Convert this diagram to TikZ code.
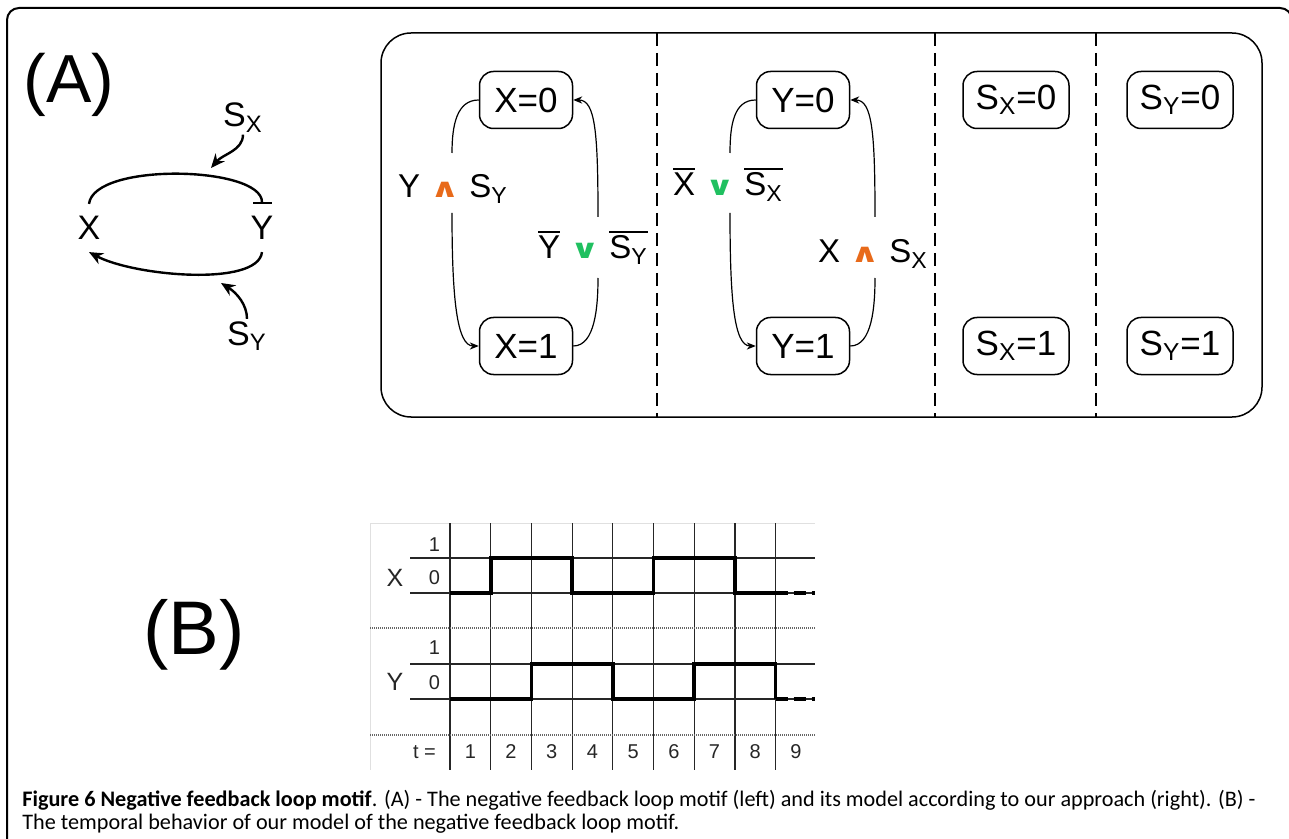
\documentclass[tikz,border=0pt]{standalone}
\usepackage{fontspec}
\setmainfont{Liberation Sans}
\newfontfamily\capfont{Carlito}
\newfontfamily\symfont{DejaVu Sans}
\usepackage{xcolor}
\usepackage{tikz}
\usetikzlibrary{arrows.meta, positioning}

\definecolor{andorange}{RGB}{232,106,26}
\definecolor{orgreen}{RGB}{32,192,96}
\newcommand{\ovl}[1]{\vbox{\hrule height 0.8pt\kern 1.6pt\hbox{#1}}}
\newcommand{\andop}{{\color{andorange}\scalebox{1.1}[0.8]{\symfont\bfseries ∧}}}
\newcommand{\orop}{{\color{orgreen}\scalebox{1.1}[0.8]{\symfont\bfseries ∨}}}

\begin{document}
\begin{tikzpicture}[x=0.5pt, y=-0.5pt,
    state/.style={draw, line width=0.75pt, rounded corners=7pt, minimum width=46.5pt,
        minimum height=28.5pt, inner sep=0pt, font=\fontsize{17.5}{20}\selectfont},
    cond/.style={inner sep=0pt, anchor=base, font=\fontsize{16.5}{18}\selectfont},
    link/.style={line width=0.6pt},
    trans/.style={link, -{Stealth[length=4.5pt,width=3.6pt]}},
    motif/.style={inner sep=6pt, font=\fontsize{17}{20}\selectfont},
    mline/.style={line width=1.2pt, -{Stealth[length=7pt,width=6pt]}},
    tgrid/.style={line width=0.6pt, black!85},
    tdot/.style={line width=0.6pt, black!60, dash pattern=on 0.6pt off 0.4pt},
    sig/.style={line width=1.8pt},
    tnum/.style={font=\fontsize{10}{12}\selectfont, text=black!85}]
    \useasboundingbox (0,0) rectangle (1289,839);

    % 1. Khung ngoai va khung mo hinh
    \draw[line width=1pt, rounded corners=6pt] (7,850) -- (7,8) -- (1292,8) -- (1292,850);
    \draw[line width=0.75pt, rounded corners=15pt] (381,33) rectangle (1262,417);
    \foreach \xx in {657,935,1096}
        \draw[line width=0.6pt, dash pattern=on 6.5pt off 3.5pt] (\xx,33) -- (\xx,417);

    % 2. Motif (A)
    \node[inner sep=0pt, anchor=base west, font=\fontsize{34}{40}\selectfont] (lblA) at (23,103) {(A)};
    \node[motif] (mx) at (89,228) {X};
    \node[motif] (my) at (262,228) {Y};
    \node[inner sep=1pt, anchor=base, font=\fontsize{17}{20}\selectfont] (msx) at (243,127) {S\textsubscript{X}};
    \node[inner sep=1pt, anchor=base, font=\fontsize{17}{20}\selectfont] (msy) at (247,345) {S\textsubscript{Y}};
    \coordinate (sxt) at (211,168);
    \coordinate (syt) at (221,283);
    \draw[mline, -{Bar[width=9.5pt]}] (mx.north) .. controls +(5,-42) and +(0,-38) .. (my.north);
    \draw[mline] (my.south) .. controls +(-4,35) and +(45,24) .. (mx.south);
    \draw[mline] (msx.south) .. controls +(0,16) and +(12,-14) .. (sxt);
    \draw[mline] (msy.north) .. controls +(0,-14) and +(16,10) .. (syt);

    % 3. Cac trang thai
    \node[state] (x0) at (526,100) {X=0};
    \node[state] (x1) at (526,346) {X=1};
    \node[state] (y0) at (803,100) {Y=0};
    \node[state] (y1) at (803,346) {Y=1};
    \node[state, minimum width=53pt] (sx0) at (1016,100) {S\textsubscript{X}=0};
    \node[state, minimum width=53pt] (sx1) at (1016,346) {S\textsubscript{X}=1};
    \node[state, minimum width=53pt] (sy0) at (1180,100) {S\textsubscript{Y}=0};
    \node[state, minimum width=53pt] (sy1) at (1180,346) {S\textsubscript{Y}=1};

    % 4. Dieu kien chuyen
    \node[cond] (ya) at (453,198) {Y\hspace{0.3em}\andop\hspace{0.3em}S\textsubscript{Y}};
    \node[cond] (yb) at (593,259) {\ovl{Y}\hspace{0.3em}\orop\hspace{0.3em}\ovl{S\textsubscript{Y}}};
    \node[cond] (xa) at (728,196) {\ovl{X}\hspace{0.3em}\orop\hspace{0.3em}\ovl{S\textsubscript{X}}};
    \node[cond] (xb) at (873,263) {X\hspace{0.3em}\andop\hspace{0.3em}S\textsubscript{X}};
    \coordinate (ya1) at (452,153);
    \coordinate (ya2) at (452,213);
    \coordinate (yb1) at (598,217);
    \coordinate (yb2) at (598,278);
    \coordinate (xa1) at (730,153);
    \coordinate (xa2) at (730,213);
    \coordinate (xb1) at (875,217);
    \coordinate (xb2) at (875,278);

    \draw[link] (x0.west) .. controls +(-22,0) and +(0,-28) .. (ya1);
    \draw[trans] (ya2) .. controls +(0,85) and +(-22,0) .. (x1.west);
    \draw[link] (x1.east) .. controls +(22,0) and +(0,28) .. (yb2);
    \draw[trans] (yb1) .. controls +(0,-85) and +(22,0) .. (x0.east);
    \draw[link] (y0.west) .. controls +(-22,0) and +(0,-28) .. (xa1);
    \draw[trans] (xa2) .. controls +(0,85) and +(-22,0) .. (y1.west);
    \draw[link] (y1.east) .. controls +(22,0) and +(0,28) .. (xb2);
    \draw[trans] (xb1) .. controls +(0,-85) and +(22,0) .. (y0.east);

    % 5. Hanh vi theo thoi gian (B)
    \node[inner sep=0pt, anchor=base west, font=\fontsize{38}{44}\selectfont] (lblB) at (143,654) {(B)};
    \draw[black!12, line width=0.5pt] (370,770) -- (370,523) -- (815,523);
    \foreach \i in {0,...,8}
        \draw[tgrid] ({450+40.7*\i},523) -- ({450+40.7*\i},770);
    \foreach \yy in {558,593,664,699}
        \draw[tgrid] (410,\yy) -- (815,\yy);
    \foreach \yy in {628,735}
        \draw[tdot] (370,\yy) -- (815,\yy);

    \node[tnum, anchor=east] at (447,545) {1};
    \node[tnum, anchor=east] at (447,578) {0};
    \node[tnum, anchor=east] at (447,648) {1};
    \node[tnum, anchor=east] at (447,683) {0};
    \node[tnum, font=\fontsize{12.5}{14}\selectfont] at (395,578) {X};
    \node[tnum, font=\fontsize{12.5}{14}\selectfont] at (395,682) {Y};
    \node[tnum, anchor=east] at (443,752) {t =};
    \foreach \n in {1,...,9}
        \node[tnum] (t\n) at ({450+40.7*(\n-0.5)},752) {\n};

    \draw[sig] (450,593) -- (490.7,593) -- (490.7,558) -- (572.1,558) -- (572.1,593)
        -- (653.5,593) -- (653.5,558) -- (734.9,558) -- (734.9,593) -- (775.6,593);
    \draw[sig, dash pattern=on 6pt off 3pt] (775.6,593) -- (815,593);
    \draw[sig] (450,699) -- (531.4,699) -- (531.4,664) -- (612.8,664) -- (612.8,699)
        -- (694.2,699) -- (694.2,664) -- (775.6,664) -- (775.6,699);
    \draw[sig, dash pattern=on 6pt off 3pt] (775.6,699) -- (815,699);

    % 6. Chu thich
    \node[inner sep=0pt, anchor=base west, font=\capfont\fontsize{11.1}{13}\selectfont] (cap1) at (22,806)
        {\textbf{Figure 6 Negative feedback loop motif}. (A) - The negative feedback loop motif (left) and its model according to our approach (right). (B) -};
    \node[inner sep=0pt, anchor=base west, font=\capfont\fontsize{11.1}{13}\selectfont] (cap2) at (22,829)
        {The temporal behavior of our model of the negative feedback loop motif.};
\end{tikzpicture}
\end{document}
